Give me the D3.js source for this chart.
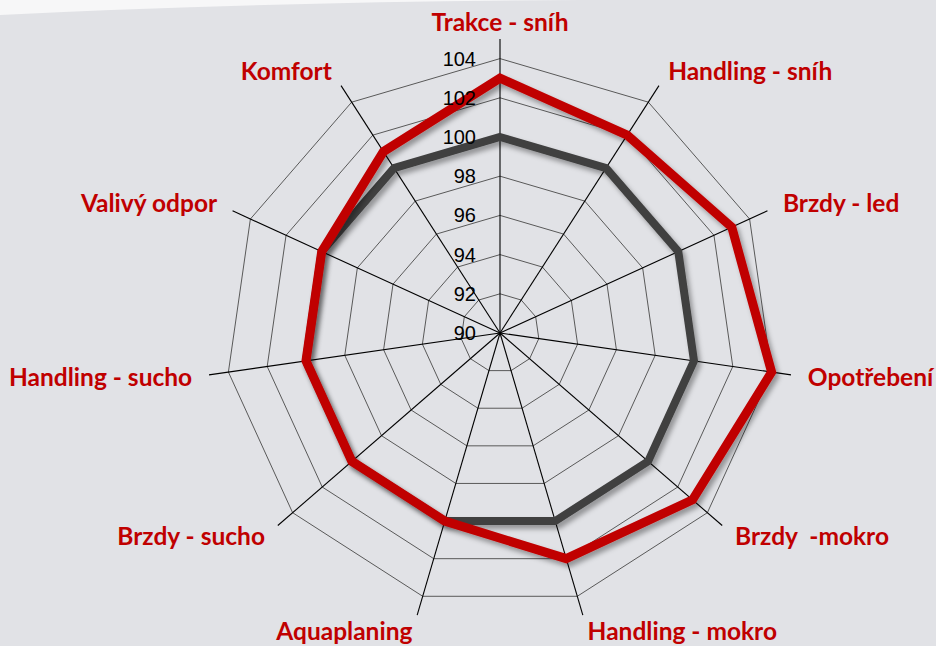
<!DOCTYPE html>
<meta charset="utf-8">
<style>
body { margin: 0; background: #e1e2e6; }
svg { display: block; }
.ring { fill: none; stroke: #595959; stroke-width: 1; }
.spoke { stroke: #000; stroke-width: 1.1; }
.tick { font: 20px "Liberation Sans", Arial, sans-serif; fill: #000; }
.label { font: bold 24.5px Lato, "Open Sans", sans-serif; fill: #c00000; white-space: pre; }
</style>
<body>
<script src="https://cdn.jsdelivr.net/npm/d3@7/dist/d3.min.js"></script>
<script>

// axis names, clockwise from the top
var axisLabels = ['Trakce - sníh', 'Handling - sníh', 'Brzdy - led', 'Opotřebení', 'Brzdy  -mokro',
                  'Handling - mokro', 'Aquaplaning', 'Brzdy - sucho', 'Handling - sucho', 'Valivý odpor', 'Komfort'];

// reference tyre (grey) and tested tyre (red)
var refValues  = [100, 100, 100, 100, 100, 100, 100, 100, 100, 100, 100];
var tyreValues = [103, 102, 103, 104, 103, 102, 100, 100, 100, 100, 101];

var tickValues = [90, 92, 94, 96, 98, 100, 102, 104];
var axisMin = 90, axisMax = 105;

var width = 936, height = 646,
    cx = 500, cy = 333,
    radius = 294;

var svg = d3.select("body").append("svg")
    .attr("width", width)
    .attr("height", height);

// light swoosh at the top left corner
svg.append("path")
    .attr("d", "M0,0 L0,15 Q260,2 580,0 Z")
    .style("fill", "#f7f7f8");

var defs = svg.append("defs");
defs.append("filter")
    .attr("id", "shadow")
    .attr("x", "-20%").attr("y", "-20%").attr("width", "140%").attr("height", "140%")
  .append("feDropShadow")
    .attr("dx", 3).attr("dy", 4)
    .attr("stdDeviation", 2.5)
    .attr("flood-color", "#000")
    .attr("flood-opacity", 0.35);

var g = svg.append("g")
    .attr("transform", "translate(" + cx + "," + cy + ")");

var rScale = d3.scaleLinear().domain([axisMin, axisMax]).range([0, radius]);
var aScale = d3.scaleLinear().domain([0, axisLabels.length]).range([0, 2 * Math.PI]);

var radarLine = d3.lineRadial()
    .angle(function(d, i) { return aScale(i); })
    .radius(function(d) { return rScale(d); })
    .curve(d3.curveLinearClosed);

// grid rings
g.selectAll(".ring")
    .data(tickValues.filter(function(t) { return t > axisMin; }))
  .enter().append("path")
    .attr("class", "ring")
    .attr("d", function(t) { return radarLine(axisLabels.map(function() { return t; })); });

// spokes
g.selectAll(".spoke")
    .data(axisLabels)
  .enter().append("line")
    .attr("class", "spoke")
    .attr("x1", 0).attr("y1", 0)
    .attr("x2", function(d, i) { return rScale(axisMax) * Math.sin(aScale(i)); })
    .attr("y2", function(d, i) { return -rScale(axisMax) * Math.cos(aScale(i)); });

// series
g.append("path")
    .attr("d", radarLine(refValues))
    .style("fill", "none")
    .style("stroke", "#404040")
    .style("stroke-width", 8)
    .style("stroke-linejoin", "miter")
    .attr("filter", "url(#shadow)");

g.append("path")
    .attr("d", radarLine(tyreValues))
    .style("fill", "none")
    .style("stroke", "#c00000")
    .style("stroke-width", 9)
    .style("stroke-linejoin", "miter")
    .attr("filter", "url(#shadow)");

// value ticks along the top spoke
g.selectAll(".tick")
    .data(tickValues)
  .enter().append("text")
    .attr("class", "tick")
    .attr("x", -24)
    .attr("y", function(t) { return -rScale(t); })
    .attr("dy", "0.35em")
    .attr("text-anchor", "end")
    .text(function(t) { return t; });

// axis names
var labelR = radius + 17;
g.selectAll(".label")
    .data(axisLabels)
  .enter().append("text")
    .attr("class", "label")
    .attr("x", function(d, i) { return labelR * Math.sin(aScale(i)); })
    .attr("y", function(d, i) { return -labelR * Math.cos(aScale(i)); })
    .attr("dy", "0.35em")
    .attr("text-anchor", function(d, i) {
      var s = Math.sin(aScale(i));
      return s > 0.05 ? "start" : (s < -0.05 ? "end" : "middle");
    })
    .text(function(d) { return d; });

</script>
</body>
